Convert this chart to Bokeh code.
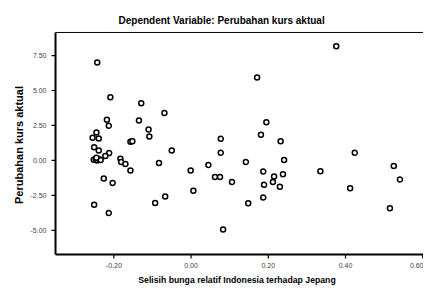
from bokeh.plotting import figure
from bokeh.models import Range1d, FixedTicker, NumeralTickFormatter, Title
from bokeh.layouts import row
from bokeh.embed import file_html
from bokeh.resources import INLINE

title_text = "Dependent Variable: Perubahan kurs aktual"
x_label = "Selisih bunga relatif Indonesia terhadap Jepang"
y_label = "Perubahan kurs aktual"

x_ticks = [-0.20, 0.00, 0.20, 0.40, 0.60]
y_ticks = [-5.0, -2.5, 0.0, 2.5, 5.0, 7.5]

x_vals = [-0.243, -0.209, -0.129, -0.069, -0.218, -0.213, -0.135, -0.110, -0.108,
          -0.245, -0.255, -0.239, -0.157, -0.152, 0.077, -0.251, -0.239, -0.212,
          -0.222, -0.050, 0.077, -0.252, -0.247, -0.243, -0.238, -0.234, -0.245,
          -0.183, -0.181, -0.170, -0.157, -0.083, -0.001, 0.045, 0.142, 0.062,
          0.075, 0.106, -0.226, -0.203, 0.006, -0.067, -0.093, -0.251, -0.213,
          0.083, 0.376, 0.171, 0.195, 0.181, 0.232, 0.241, 0.187, 0.215, 0.212,
          0.238, 0.189, 0.230, 0.187, 0.148, 0.335, 0.424, 0.412, 0.525, 0.541,
          0.515]
y_vals = [7.00, 4.52, 4.09, 3.38, 2.91, 2.48, 2.86, 2.20, 1.70,
          2.00, 1.61, 1.56, 1.33, 1.36, 1.54, 0.94, 0.71, 0.52,
          0.31, 0.71, 0.55, 0.05, 0.12, 0.00, 0.08, 0.03, 0.18,
          0.12, -0.12, -0.26, -0.73, -0.19, -0.73, -0.33, -0.12, -1.18,
          -1.18, -1.54, -1.30, -1.61, -2.17, -2.58, -3.05, -3.17, -3.76,
          -4.94, 8.16, 5.93, 2.72, 1.84, 1.37, 0.02, -0.80, -1.16, -1.54,
          -0.99, -1.75, -1.89, -2.65, -3.07, -0.78, 0.55, -1.99, -0.40, -1.37,
          -3.43]

FONT = "Liberation Sans"

# data-space extent of the SPSS plot box
X_AXIS, X_END = -0.351, 0.602
Y_AXIS, Y_TOP = -6.74, 9.15
TICK_X = 0.0105   # tick length (x units) for y ticks
TICK_Y = 0.28     # tick length (y units) for x ticks

# narrow figure carrying the vertical y-axis title
lab = figure(width=26, height=286, output_backend="svg", toolbar_location=None,
             x_axis_location=None, y_axis_location=None,
             min_border_left=24, min_border_right=0, min_border_top=30,
             min_border_bottom=25)
lab.grid.visible = False
lab.outline_line_color = None
lab.add_layout(Title(text=y_label, align="center", text_font=FONT, text_font_size="11px",
                     text_font_style="bold", text_color="black", standoff=0), "left")

p = figure(width=397, height=286, output_backend="svg", toolbar_location=None,
           x_range=Range1d(X_AXIS - 0.013, X_END), y_range=Range1d(Y_AXIS - 0.35, Y_TOP + 0.14),
           min_border_left=24, min_border_right=0, min_border_top=30,
           min_border_bottom=25)
p.title.text = title_text
p.title.align = "left"
p.title.offset = 68
p.title.text_font = FONT
p.title.text_font_size = "10px"
p.title.text_font_style = "bold"
p.title.text_color = "black"
p.title.standoff = 9
p.grid.visible = False
p.outline_line_color = None
p.background_fill_color = "white"

fmt = NumeralTickFormatter(format="0.00")
xa = p.xaxis[0]
ya = p.yaxis[0]
xa.ticker = FixedTicker(ticks=x_ticks)
ya.ticker = FixedTicker(ticks=y_ticks)
for ax in (xa, ya):
    ax.formatter = fmt
    ax.axis_line_color = None
    ax.major_tick_line_color = None
    ax.major_tick_out = 0
    ax.major_tick_in = 0
    ax.minor_tick_line_color = None
    ax.major_label_text_font = FONT
    ax.major_label_text_font_size = "7px"
xa.major_label_standoff = 3
ya.major_label_standoff = 4

p.add_layout(Title(text=x_label, align="center", text_font=FONT, text_font_size="8.7px",
                   text_font_style="bold", text_color="black", standoff=4), "below")

# axis lines of the plot box (left, bottom, top)
p.segment(x0=[X_AXIS, X_AXIS, X_AXIS], y0=[Y_AXIS, Y_AXIS, Y_TOP],
          x1=[X_AXIS, X_END, X_END], y1=[Y_TOP, Y_AXIS, Y_TOP],
          line_color="black", line_width=[2, 2, 1])
# tick marks
p.segment(x0=x_ticks, y0=[Y_AXIS] * len(x_ticks), x1=x_ticks,
          y1=[Y_AXIS - TICK_Y] * len(x_ticks), line_color="black", line_width=1.2)
p.segment(x0=[X_AXIS] * len(y_ticks), y0=y_ticks, x1=[X_AXIS - TICK_X] * len(y_ticks),
          y1=y_ticks, line_color="black", line_width=1.2)

p.scatter(x_vals, y_vals, marker="circle", size=5, fill_color="white",
          line_color="black", line_width=1.5)

open("out.html", "w").write(file_html(row(lab, p), INLINE))
